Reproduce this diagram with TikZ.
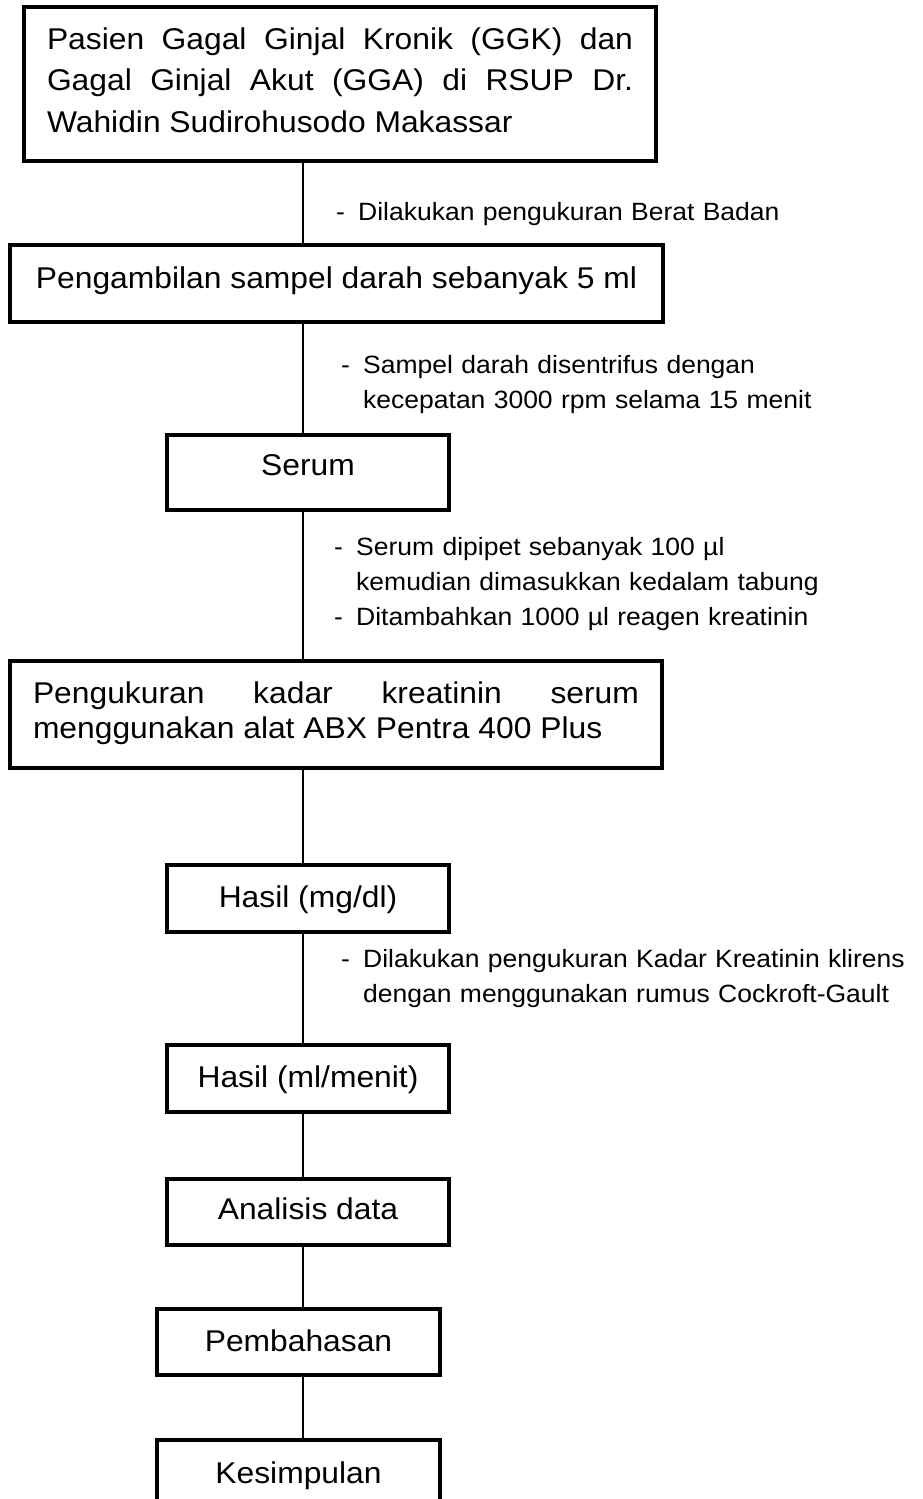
\documentclass[tikz,border=0pt]{standalone}
\usepackage{fontspec}
\setmainfont{Liberation Sans}[FakeStretch=1.06]
\hbadness=10000
\begin{document}
\begin{tikzpicture}[x=1pt,y=-1pt,
  box/.style={draw, line width=3.2pt, inner sep=0pt, font=\fontsize{30}{41.5}\selectfont},
  link/.style={line width=1.3pt},
  note/.style={anchor=base west, inner sep=0pt, text width=570pt, align=left, font=\fontsize{25}{35}\selectfont}]
\useasboundingbox (0,0) rectangle (922,1499);
\fill[white] (0,0) rectangle (922,1499);
\coordinate (ax) at (303,0);

\node[box, minimum width=632pt, minimum height=154pt, text width=586pt, align=justify, text height=0pt, text depth=70pt] (b1) at (340,84)
  {Pasien Gagal Ginjal Kronik (GGK) dan\linebreak Gagal Ginjal Akut (GGA) di RSUP Dr.\linebreak Wahidin Sudirohusodo Makassar};
\node[box, minimum width=653pt, minimum height=77pt, text height=9pt, text depth=0pt] (b2) at (336.5,283.5)
  {Pengambilan sampel darah sebanyak 5 ml};
\node[box, minimum width=282pt, minimum height=75pt, text height=5pt, text depth=0pt] (b3) at (308,472.5) {Serum};
\node[box, font=\fontsize{30}{35}\selectfont, minimum width=652pt, minimum height=107pt, text width=606pt, align=justify, text height=0pt, text depth=23pt] (b4) at (336,714.5)
  {Pengukuran kadar kreatinin serum\linebreak menggunakan alat ABX Pentra 400 Plus};
\node[box, minimum width=282pt, minimum height=67pt, text height=17pt, text depth=0pt] (b5) at (308,898.5) {Hasil (mg/dl)};
\node[box, minimum width=282pt, minimum height=67pt, text height=17pt, text depth=0pt] (b6) at (308,1078.5) {Hasil (ml/menit)};
\node[box, minimum width=282pt, minimum height=66pt, text height=14pt, text depth=0pt] (b7) at (308,1212) {Analisis data};
\node[box, minimum width=283pt, minimum height=66pt, text height=18pt, text depth=0pt] (b8) at (298.5,1342) {Pembahasan};
\node[box, minimum width=283pt, minimum height=68pt, text height=18pt, text depth=0pt] (b9) at (298.5,1474) {Kesimpulan};

\node[note] (n1) at (336,220) {\makebox[22pt][l]{-}Dilakukan pengukuran Berat Badan};
\node[note] (n2) at (341,373) {\makebox[22pt][l]{-}Sampel darah disentrifus dengan\\\hspace*{22pt}kecepatan 3000 rpm selama 15 menit};
\node[note] (n3) at (334,555) {\makebox[22pt][l]{-}Serum dipipet sebanyak 100 µl\\\hspace*{22pt}kemudian dimasukkan kedalam tabung\\\makebox[22pt][l]{-}Ditambahkan 1000 µl reagen kreatinin};
\node[note] (n4) at (341,967) {\makebox[22pt][l]{-}Dilakukan pengukuran Kadar Kreatinin klirens\\\hspace*{22pt}dengan menggunakan rumus Cockroft-Gault};

\draw[link] (b1.south -| ax) -- (b2.north -| ax);
\draw[link] (b2.south -| ax) -- (b3.north -| ax);
\draw[link] (b3.south -| ax) -- (b4.north -| ax);
\draw[link] (b4.south -| ax) -- (b5.north -| ax);
\draw[link] (b5.south -| ax) -- (b6.north -| ax);
\draw[link] (b6.south -| ax) -- (b7.north -| ax);
\draw[link] (b7.south -| ax) -- (b8.north -| ax);
\draw[link] (b8.south -| ax) -- (b9.north -| ax);
\end{tikzpicture}
\end{document}
